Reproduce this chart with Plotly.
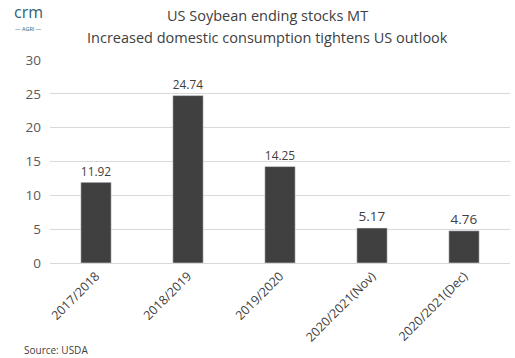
import plotly.graph_objects as go

categories = ["2017/2018", "2018/2019", "2019/2020", "2020/2021(Nov)", "2020/2021(Dec)"]
values = [11.92, 24.74, 14.25, 5.17, 4.76]
labels = ["11.92", "24.74", "14.25", "5.17", "4.76"]
yticks = [0, 5, 10, 15, 20, 25, 30]
title_lines = ["US Soybean ending stocks MT",
               "Increased domestic consumption tightens US outlook"]

font_fam = "Open Sans, Liberation Sans, sans-serif"
txt = "#595959"

fig = go.Figure(go.Bar(
    x=categories, y=values, text=labels, textposition="outside",
    textfont=dict(size=13.5, color="#404040", family=font_fam),
    marker=dict(color="#404040"), width=0.33, cliponaxis=False,
))

anns = [
    dict(text=title_lines[0], x=0.472, y=1.0, xref="paper", yref="paper",
         xanchor="center", yanchor="middle", showarrow=False, yshift=45,
         font=dict(size=14.5, color="#404040")),
    dict(text=title_lines[1], x=0.472, y=1.0, xref="paper", yref="paper",
         xanchor="center", yanchor="middle", showarrow=False, yshift=23,
         font=dict(size=14.5, color="#404040")),
    dict(text="Source: USDA", x=0, y=0, xref="paper", yref="paper",
         xanchor="left", yanchor="top", showarrow=False,
         xshift=-28, yshift=-78,
         font=dict(size=10, color="#404040")),
    dict(text="crm", x=0, y=1.0, xref="paper", yref="paper",
         xanchor="center", yanchor="middle", showarrow=False,
         xshift=-22, yshift=48,
         font=dict(size=16, color="#2e5f78")),
    dict(text="— AGRI —", x=0, y=1.0, xref="paper", yref="paper",
         xanchor="center", yanchor="middle", showarrow=False,
         xshift=-22, yshift=31,
         font=dict(size=5.5, color="#2e5f78")),
]

fig.update_layout(
    width=515, height=358,
    margin=dict(l=50, r=5, t=60, b=95),
    paper_bgcolor="white", plot_bgcolor="white",
    showlegend=False,
    font=dict(family=font_fam, color=txt),
    xaxis=dict(tickangle=-45, tickfont=dict(size=12.5, color="#404040"),
               showline=True, linecolor="#d9d9d9", ticks=""),
    yaxis=dict(range=[0, 30], tickvals=yticks, tickfont=dict(size=13.5, color=txt),
               gridcolor="#d9d9d9", zeroline=False, showline=False, ticks="",
               ticklabelstandoff=8),
    annotations=anns,
)

fig.write_html("out.html", config={"displayModeBar": False},
               post_script="document.body.style.margin='0';")
